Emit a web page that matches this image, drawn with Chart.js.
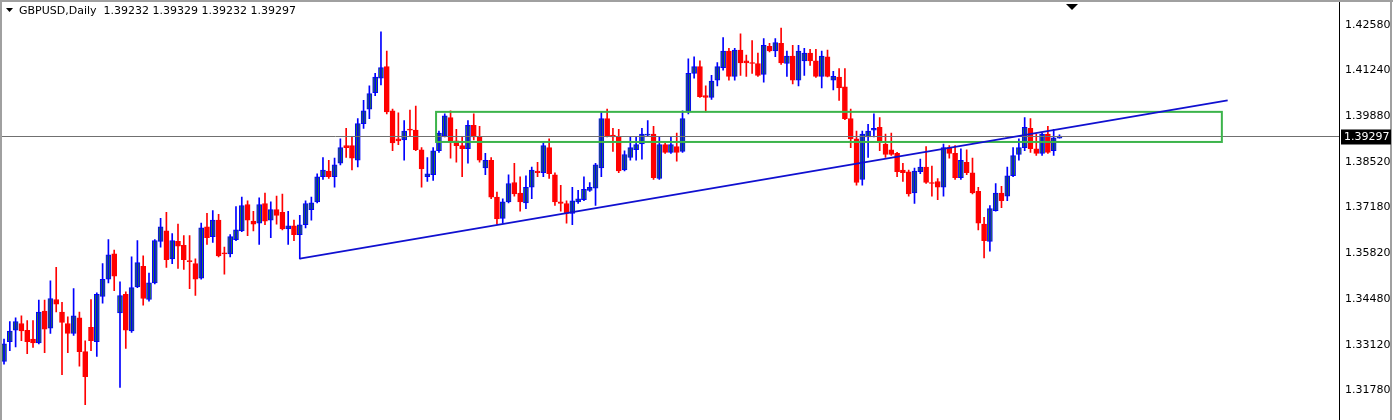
<!DOCTYPE html>
<html><head><meta charset="utf-8">
<script src="https://cdn.jsdelivr.net/npm/chart.js@4"></script>
<style>html,body{margin:0;padding:0;background:#fff;}#wrap{width:1393px;height:420px;position:relative;}</style>
</head><body><div id="wrap"><canvas id="c"></canvas></div>
<script>
const symbol = "GBPUSD,Daily";
const opens = [1.3263,1.3321,1.3355,1.3375,1.3355,1.3329,1.3318,1.3412,1.3361,1.3446,1.3409,1.3375,1.3346,1.3392,1.3292,1.3364,1.3321,1.3455,1.3506,1.3581,1.3406,1.3461,1.3353,1.3483,1.3544,1.3446,1.3495,1.3618,1.3649,1.3566,1.3618,1.3606,1.3561,1.3552,1.3509,1.3661,1.3632,1.3681,1.3584,1.3581,1.3623,1.3649,1.3727,1.3678,1.3672,1.3730,1.3681,1.3712,1.3704,1.3655,1.3664,1.3638,1.3667,1.3712,1.3735,1.3809,1.3826,1.3809,1.3849,1.3901,1.3901,1.3858,1.3966,1.4009,1.4058,1.4101,1.4135,1.4004,1.3921,1.3918,1.3949,1.3947,1.3889,1.3809,1.3815,1.3886,1.3929,1.3984,1.3915,1.3901,1.3892,1.3961,1.3927,1.3835,1.3858,1.3749,1.3686,1.3735,1.3792,1.3761,1.3732,1.3778,1.3826,1.3821,1.3895,1.3815,1.3735,1.3730,1.3701,1.3735,1.3741,1.3769,1.3775,1.3835,1.3981,1.3932,1.3927,1.3829,1.3866,1.3889,1.3906,1.3932,1.3935,1.3804,1.3904,1.3881,1.3898,1.3884,1.4001,1.4115,1.4135,1.4049,1.4044,1.4095,1.4132,1.4181,1.4106,1.4184,1.4152,1.4146,1.4144,1.4112,1.4195,1.4181,1.4204,1.4144,1.4166,1.4095,1.4152,1.4175,1.4152,1.4106,1.4164,1.4095,1.4104,1.4075,1.3981,1.3921,1.3801,1.3927,1.3947,1.3955,1.3906,1.3889,1.3878,1.3829,1.3824,1.3761,1.3824,1.3838,1.3792,1.3795,1.3778,1.3895,1.3878,1.3806,1.3852,1.3821,1.3766,1.3669,1.3618,1.3709,1.3761,1.3752,1.3812,1.3875,1.3895,1.3952,1.3892,1.3878,1.3935,1.3886,1.39232];
const highs = [1.3329,1.3381,1.3392,1.3398,1.3384,1.3384,1.3444,1.3444,1.3501,1.3541,1.3438,1.3395,1.3478,1.3409,1.3324,1.3446,1.3466,1.3552,1.3623,1.3592,1.3498,1.3469,1.3572,1.3620,1.3575,1.3524,1.3623,1.3686,1.3704,1.3641,1.3669,1.3635,1.3635,1.3566,1.3672,1.3701,1.3709,1.3698,1.3601,1.3638,1.3721,1.3749,1.3738,1.3707,1.3747,1.3761,1.3735,1.3752,1.3758,1.3707,1.3681,1.3695,1.3738,1.3749,1.3818,1.3866,1.3858,1.3864,1.3921,1.3952,1.3927,1.3981,1.4035,1.4078,1.4115,1.4238,1.4181,1.4009,1.3998,1.3975,1.4006,1.4018,1.3895,1.3866,1.3895,1.3944,1.3995,1.4004,1.3949,1.3927,1.3975,1.3995,1.3958,1.3878,1.3866,1.3764,1.3744,1.3815,1.3849,1.3809,1.3812,1.3838,1.3852,1.3909,1.3921,1.3821,1.3784,1.3738,1.3778,1.3769,1.3809,1.3792,1.3849,1.4001,1.4009,1.3952,1.3949,1.3886,1.3929,1.3927,1.3952,1.3975,1.3958,1.3929,1.3909,1.3927,1.3938,1.4004,1.4158,1.4164,1.4152,1.4078,1.4109,1.4147,1.4221,1.4189,1.4189,1.4232,1.4169,1.4212,1.4175,1.4218,1.4204,1.4218,1.4249,1.4181,1.4198,1.4198,1.4189,1.4186,1.4186,1.4181,1.4184,1.4121,1.4129,1.4129,1.4009,1.3944,1.3944,1.3964,1.3995,1.3984,1.3935,1.3938,1.3881,1.3849,1.3829,1.3835,1.3861,1.3898,1.3841,1.3804,1.3906,1.3901,1.3901,1.3892,1.3889,1.3864,1.3778,1.3689,1.3724,1.3789,1.3781,1.3838,1.3895,1.3921,1.3984,1.3981,1.3935,1.3938,1.3958,1.3949,1.39329];
const lows = [1.3255,1.3295,1.3306,1.3324,1.3286,1.3304,1.3315,1.3289,1.3346,1.3409,1.3224,1.3289,1.3340,1.3249,1.3135,1.3295,1.3278,1.3435,1.3495,1.3472,1.3186,1.3301,1.3349,1.3481,1.3429,1.3441,1.3492,1.3601,1.3541,1.3552,1.3538,1.3535,1.3478,1.3458,1.3506,1.3609,1.3615,1.3572,1.3521,1.3572,1.3620,1.3647,1.3635,1.3649,1.3609,1.3667,1.3629,1.3669,1.3652,1.3609,1.3620,1.3566,1.3658,1.3681,1.3732,1.3801,1.3804,1.3778,1.3844,1.3866,1.3829,1.3838,1.3952,1.3981,1.4049,1.4081,1.3995,1.3886,1.3904,1.3858,1.3929,1.3886,1.3778,1.3795,1.3798,1.3881,1.3927,1.3864,1.3852,1.3809,1.3849,1.3918,1.3852,1.3815,1.3744,1.3669,1.3672,1.3732,1.3752,1.3707,1.3715,1.3744,1.3809,1.3809,1.3804,1.3724,1.3707,1.3672,1.3667,1.3730,1.3738,1.3766,1.3724,1.3809,1.3927,1.3884,1.3821,1.3826,1.3858,1.3858,1.3861,1.3929,1.3801,1.3801,1.3878,1.3878,1.3855,1.3881,1.3995,1.4101,1.4044,1.4001,1.4038,1.4078,1.4124,1.4095,1.4095,1.4109,1.4106,1.4115,1.4106,1.4089,1.4178,1.4164,1.4141,1.4106,1.4084,1.4078,1.4109,1.4138,1.4103,1.4072,1.4104,1.4066,1.4035,1.3978,1.3895,1.3784,1.3784,1.3866,1.3927,1.3886,1.3866,1.3872,1.3809,1.3795,1.3752,1.3730,1.3818,1.3789,1.3752,1.3741,1.3752,1.3864,1.3801,1.3801,1.3815,1.3758,1.3652,1.3569,1.3589,1.3707,1.3718,1.3738,1.3809,1.3858,1.3886,1.3881,1.3872,1.3872,1.3878,1.3872,1.39232];
const closes = [1.3315,1.3353,1.3381,1.3353,1.3321,1.3318,1.3409,1.3358,1.3449,1.3432,1.3378,1.3346,1.3398,1.3292,1.3218,1.3324,1.3461,1.3506,1.3578,1.3515,1.3458,1.3355,1.3481,1.3555,1.3449,1.3495,1.3620,1.3661,1.3564,1.3620,1.3604,1.3564,1.3558,1.3506,1.3658,1.3629,1.3681,1.3575,1.3581,1.3632,1.3652,1.3724,1.3681,1.3669,1.3727,1.3678,1.3712,1.3695,1.3655,1.3664,1.3638,1.3667,1.3730,1.3732,1.3809,1.3829,1.3809,1.3844,1.3895,1.3895,1.3864,1.3966,1.4004,1.4055,1.4104,1.4132,1.4001,1.3909,1.3915,1.3944,1.3947,1.3889,1.3832,1.3818,1.3886,1.3938,1.3989,1.3915,1.3901,1.3892,1.3961,1.3927,1.3858,1.3858,1.3749,1.3684,1.3735,1.3789,1.3758,1.3735,1.3778,1.3829,1.3821,1.3901,1.3818,1.3735,1.3730,1.3701,1.3738,1.3744,1.3772,1.3778,1.3844,1.3981,1.3929,1.3927,1.3826,1.3875,1.3895,1.3904,1.3935,1.3935,1.3806,1.3904,1.3881,1.3904,1.3881,1.3981,1.4115,1.4135,1.4046,1.4044,1.4092,1.4135,1.4181,1.4106,1.4184,1.4146,1.4146,1.4144,1.4109,1.4198,1.4181,1.4206,1.4146,1.4166,1.4095,1.4181,1.4175,1.4152,1.4106,1.4166,1.4106,1.4106,1.4072,1.3981,1.3921,1.3792,1.3935,1.3944,1.3952,1.3915,1.3875,1.3875,1.3824,1.3821,1.3758,1.3826,1.3838,1.3792,1.3789,1.3778,1.3895,1.3878,1.3806,1.3858,1.3821,1.3761,1.3672,1.3620,1.3715,1.3761,1.3738,1.3812,1.3872,1.3895,1.3955,1.3892,1.3878,1.3935,1.3881,1.3924,1.39297];
const priceTicks = [1.42580,1.41240,1.39880,1.38520,1.37180,1.35820,1.34480,1.33120,1.31780];
const currentPrice = 1.39297;
const zoneBox = {x1:74.5, x2:210, top:1.4001, bottom:1.3912};
const trendX = [51, 211];
const trendY = [1.3567, 1.4035];

const idx = opens.map((_,i)=>i);
const up = i => closes[i] >= opens[i];
const wickData = idx.map(i=>({x:i, y:[lows[i], highs[i]]}));
const bodyData = idx.map(i=>({x:i, y:[opens[i], closes[i]]}));
const BLUE='#0000ff', RED='#ff0000', GREEN='#2e7d3c';

const overlay = {
  id:'overlay',
  afterDatasetsDraw(chart){
    const {ctx, chartArea:a, scales:{x,y}} = chart;
    ctx.save();
    // current price line
    const py = Math.round(y.getPixelForValue(currentPrice))+0.5;
    ctx.strokeStyle='#707070'; ctx.lineWidth=1;
    ctx.beginPath(); ctx.moveTo(a.left,py); ctx.lineTo(a.right,py); ctx.stroke();
    // green zone
    ctx.strokeStyle='#3cb44b'; ctx.lineWidth=2;
    const x1=x.getPixelForValue(zoneBox.x1), x2=x.getPixelForValue(zoneBox.x2);
    const y1=y.getPixelForValue(zoneBox.top), y2=y.getPixelForValue(zoneBox.bottom);
    ctx.strokeRect(x1,y1,x2-x1,y2-y1);
    // trendline
    ctx.strokeStyle='#1010d0'; ctx.lineWidth=1.6;
    ctx.beginPath(); ctx.moveTo(x.getPixelForValue(trendX[0]), y.getPixelForValue(trendY[0]));
    ctx.lineTo(x.getPixelForValue(trendX[1]), y.getPixelForValue(trendY[1])); ctx.stroke();
    // borders
    ctx.strokeStyle='#000'; ctx.lineWidth=1;
    ctx.beginPath(); ctx.moveTo(a.right+0.5,0); ctx.lineTo(a.right+0.5,420); ctx.stroke();
    ctx.strokeStyle='#a0a0a0'; ctx.lineWidth=2;
    ctx.beginPath(); ctx.moveTo(1,0); ctx.lineTo(1,420); ctx.stroke();
    ctx.beginPath(); ctx.moveTo(1391,0); ctx.lineTo(1391,420); ctx.stroke();
    ctx.beginPath(); ctx.moveTo(0,1); ctx.lineTo(1393,1); ctx.stroke();
    // title
    ctx.fillStyle='#000'; ctx.font='11px "DejaVu Sans"'; ctx.textBaseline='middle';
    ctx.beginPath(); ctx.moveTo(6,8); ctx.lineTo(13,8); ctx.lineTo(9.5,12); ctx.closePath(); ctx.fill();
    ctx.fillText(symbol+'  '+[opens[opens.length-1],highs[highs.length-1],lows[lows.length-1],closes[closes.length-1]].map(v=>v.toFixed(5)).join(' '), 19, 11);
    // top triangle
    ctx.beginPath(); ctx.moveTo(1066,4); ctx.lineTo(1078,4); ctx.lineTo(1072,10); ctx.closePath(); ctx.fill();
    // price label
    ctx.fillRect(a.right+2, py-7, 50, 15);
    ctx.fillStyle='#fff'; ctx.fillText(currentPrice.toFixed(5), a.right+5, py+0.5);
    ctx.restore();
  }
};

new Chart(document.getElementById('c'), {
  type:'bar',
  data:{datasets:[
    {data:wickData, grouped:false, barThickness:1, minBarLength:1,
     backgroundColor: c=>up(c.dataIndex)?BLUE:RED, borderWidth:0},
    {data:bodyData, grouped:false, barThickness:5, minBarLength:1,
     backgroundColor: c=>up(c.dataIndex)?GREEN:RED,
     borderColor: c=>up(c.dataIndex)?BLUE:RED, borderWidth:1, borderSkipped:false}
  ]},
  options:{
    responsive:true, maintainAspectRatio:false, animation:false,
    layout:{padding:{left:1, top:3, right:0, bottom:0}},
    plugins:{legend:{display:false}, tooltip:{enabled:false}},
    scales:{
      x:{type:'linear', min:-0.52, max:230.2, display:false, offset:false},
      y:{position:'right', min:1.31151, max:1.43064,
         afterBuildTicks: s=>{ s.ticks = priceTicks.map(v=>({value:v})); },
         afterFit: s=>{ s.width = 54; },
         grid:{display:false, drawTicks:true, tickLength:4, tickColor:'#000'},
         border:{display:true, color:'#000'},
         ticks:{color:'#000', font:{family:'DejaVu Sans', size:11}, padding:2,
                callback:v=>v.toFixed(5)}}
    }
  },
  plugins:[overlay]
});
</script></body></html>
